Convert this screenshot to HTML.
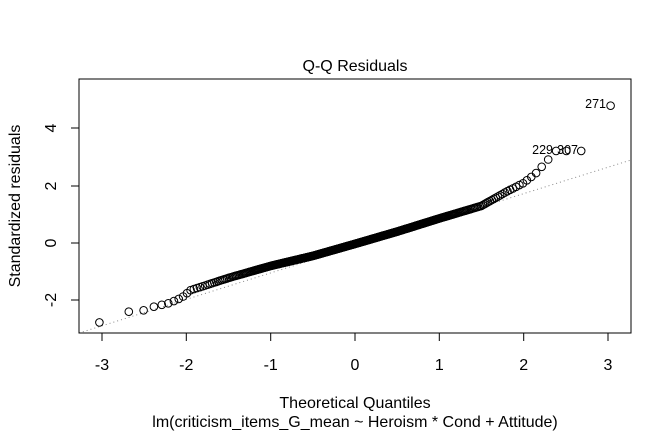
<!DOCTYPE html>
<html><head><style>
html,body{margin:0;padding:0;background:#fff;}
svg text{font-family:"Liberation Sans",Arial,sans-serif;fill:#000;}
</style></head><body>
<svg id="s" width="672" height="432" viewBox="0 0 672 432" xmlns="http://www.w3.org/2000/svg">
<rect width="672" height="432" fill="#fff"/>
<text x="355" y="71" font-size="16" text-anchor="middle">Q-Q Residuals</text>
<line x1="79" y1="333" x2="631" y2="160" stroke="#888" stroke-width="1" stroke-dasharray="1,3"/>
<g id="pts" fill="none" stroke="#000" stroke-width="1"></g>
<rect x="79" y="79" width="552" height="254" fill="none" stroke="#000" stroke-width="1"/>
<g stroke="#000" stroke-width="1">
<line x1="102" y1="333" x2="608" y2="333"/>
<line x1="102" y1="333" x2="102" y2="341"/><line x1="186.3" y1="333" x2="186.3" y2="341"/>
<line x1="270.7" y1="333" x2="270.7" y2="341"/><line x1="355" y1="333" x2="355" y2="341"/>
<line x1="439.3" y1="333" x2="439.3" y2="341"/><line x1="523.7" y1="333" x2="523.7" y2="341"/>
<line x1="608" y1="333" x2="608" y2="341"/>
<line x1="79" y1="128" x2="79" y2="300"/>
<line x1="71" y1="128" x2="79" y2="128"/><line x1="71" y1="186" x2="79" y2="186"/>
<line x1="71" y1="243" x2="79" y2="243"/><line x1="71" y1="300" x2="79" y2="300"/>
</g>
<g font-size="16" text-anchor="middle">
<text x="102" y="370">-3</text><text x="186.3" y="370">-2</text><text x="270.7" y="370">-1</text>
<text x="355" y="370">0</text><text x="439.3" y="370">1</text><text x="523.7" y="370">2</text><text x="608" y="370">3</text>
<text transform="translate(56,128) rotate(-90)">4</text>
<text transform="translate(56,186) rotate(-90)">2</text>
<text transform="translate(56,243) rotate(-90)">0</text>
<text transform="translate(56,300) rotate(-90)">-2</text>
<text x="355" y="408">Theoretical Quantiles</text>
<text x="355" y="427">lm(criticism_items_G_mean ~ Heroism * Cond + Attitude)</text>
<text transform="translate(20,206) rotate(-90)">Standardized residuals</text>
</g>
<g font-size="12.5" text-anchor="end">
<text x="606" y="108">271</text>
<text x="553" y="154">229</text>
<text x="578" y="154">307</text>
</g>
</svg>
<script>
function qn(p){var a=[-39.69683028665376,220.9460984245205,-275.9285104469687,138.357751867269,-30.66479806614716,2.506628277459239],b=[-54.47609879822406,161.5858368580409,-155.6989798598866,66.80131188771972,-13.28068155288572],c=[-0.007784894002430293,-0.3223964580411365,-2.400758277161838,-2.549732539343734,4.374664141464968,2.938163982698783],d=[0.007784695709041462,0.3224671290700398,2.445134137142996,3.754408661907416];var q,r;if(p<0.02425){q=Math.sqrt(-2*Math.log(p));return(((((c[0]*q+c[1])*q+c[2])*q+c[3])*q+c[4])*q+c[5])/((((d[0]*q+d[1])*q+d[2])*q+d[3])*q+1);}if(p>1-0.02425){return -qn(1-p);}q=p-0.5;r=q*q;return(((((a[0]*r+a[1])*r+a[2])*r+a[3])*r+a[4])*r+a[5])*q/(((((b[0]*r+b[1])*r+b[2])*r+b[3])*r+b[4])*r+1);}
var A=[[-3.1,-2.85],[-2.68,-2.4],[-2.5,-2.35],[-2.38,-2.22],[-2.2,-2.1],[-2.05,-1.9],[-1.95,-1.65],[-1.5,-1.22],[-1,-0.8],[-0.5,-0.45],[0,-0.03],[0.5,0.4],[1,0.86],[1.5,1.3],[1.8,1.8],[2.0,2.1],[2.15,2.45],[2.3,2.95],[2.4,3.2],[2.75,3.25],[3.1,4.8]];
function f(q){for(var i=0;i<A.length-1;i++){if(q<=A[i+1][0]){var t=(q-A[i][0])/(A[i+1][0]-A[i][0]);return A[i][1]+t*(A[i+1][1]-A[i][1]);}}return A[A.length-1][1];}
var n=410,g=document.getElementById('pts'),h='';
for(var i=1;i<=n;i++){var q=qn((i-0.5)/n);var r=f(q);if(i==n)r=4.8;else if(i>=n-3)r=3.22;
var x=355+q*84.33,y=243-r*28.6;h+='<circle cx="'+x.toFixed(1)+'" cy="'+y.toFixed(1)+'" r="3.8"/>';}
g.innerHTML=h;
</script>
</body></html>
